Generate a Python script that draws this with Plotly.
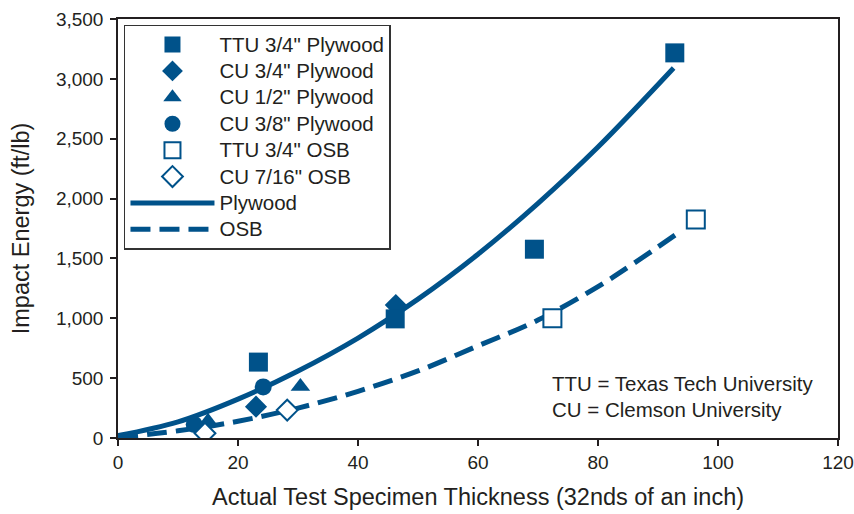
import plotly.graph_objects as go

BLUE = "#00528A"
INK = "#231F20"
FONT = "Liberation Sans, Arial, sans-serif"

# Measured specimens: thickness (32nds of an inch) vs impact energy (ft/lb)
ttu_ply34_x = [23.4, 46.2, 69.4, 92.8]
ttu_ply34_y = [634, 995, 1577, 3217]
cu_ply34_x = [23.0, 46.3]
cu_ply34_y = [262, 1110]
cu_ply12_x = [15.0, 30.4]
cu_ply12_y = [140, 430]
cu_ply38_x = [12.7, 24.2]
cu_ply38_y = [112, 427]
ttu_osb34_x = [72.4, 96.3]
ttu_osb34_y = [1000, 1826]
cu_osb716_x = [14.5, 28.2]
cu_osb716_y = [40, 233]

# Trend curves
ply_fit_x = [0, 10, 20, 30, 40, 50, 60, 70, 80, 92.6]
ply_fit_y = [20, 135, 325, 560, 835, 1160, 1535, 1960, 2430, 3090]
osb_fit_x = [0, 10, 20, 30, 40, 50, 60, 70, 80, 86, 93]
osb_fit_y = [5, 60, 140, 250, 390, 560, 770, 985, 1265, 1460, 1700]


def label(text):
    # legend rows are spaced by the legend font; the label itself is a touch larger
    return '<span style="font-size:20.5px">' + text + "</span>"


fig = go.Figure()

# curves first so the markers sit on top
fig.add_trace(go.Scatter(
    x=ply_fit_x, y=ply_fit_y, mode="lines", name=label("Plywood"), legendrank=7,
    line=dict(color=BLUE, width=5, shape="spline"),
))
fig.add_trace(go.Scatter(
    x=osb_fit_x, y=osb_fit_y, mode="lines", name=label("OSB"), legendrank=8,
    line=dict(color=BLUE, width=5, shape="spline", dash="20px,9px"),
))

filled = dict(color=BLUE, line=dict(width=0))
fig.add_trace(go.Scatter(
    x=cu_ply34_x, y=cu_ply34_y, mode="markers", name=label('CU 3/4" Plywood'), legendrank=2,
    marker=dict(symbol="diamond", size=17, **filled),
))
fig.add_trace(go.Scatter(
    x=cu_ply12_x, y=cu_ply12_y, mode="markers", name=label('CU 1/2" Plywood'), legendrank=3,
    marker=dict(symbol="triangle-up", size=17, **filled),
))
fig.add_trace(go.Scatter(
    x=cu_ply38_x, y=cu_ply38_y, mode="markers", name=label('CU 3/8" Plywood'), legendrank=4,
    marker=dict(symbol="circle", size=17, **filled),
))
fig.add_trace(go.Scatter(
    x=ttu_ply34_x, y=ttu_ply34_y, mode="markers", name=label('TTU 3/4" Plywood'), legendrank=1,
    marker=dict(symbol="square", size=19, **filled),
))
fig.add_trace(go.Scatter(
    x=ttu_osb34_x, y=ttu_osb34_y, mode="markers", name=label('TTU 3/4" OSB'), legendrank=5,
    marker=dict(symbol="square", size=18, color="white", line=dict(color=BLUE, width=2)),
))
fig.add_trace(go.Scatter(
    x=cu_osb716_x, y=cu_osb716_y, mode="markers", name=label('CU 7/16" OSB'), legendrank=6,
    marker=dict(symbol="diamond", size=16, color="white", line=dict(color=BLUE, width=2)),
))

axis_common = dict(
    showline=True, linecolor=INK, linewidth=1.5, mirror=True,
    ticks="outside", ticklen=6, tickwidth=1.5, tickcolor=INK,
    showgrid=False, zeroline=False, automargin=False,
    tickfont=dict(family=FONT, size=19, color=INK),
)

fig.update_xaxes(
    range=[0, 120], tick0=0, dtick=20,
    title=dict(text="Actual Test Specimen Thickness (32nds of an inch)",
               font=dict(family=FONT, size=23.5, color=INK), standoff=17),
    **axis_common,
)
fig.update_yaxes(
    range=[0, 3500], tick0=0, dtick=500, tickformat=",", ticklabelstandoff=3,
    title=dict(text="Impact Energy (ft/lb)",
               font=dict(family=FONT, size=23.5, color=INK), standoff=20),
    **axis_common,
)

fig.add_annotation(
    x=0.6, y=0.129, xref="paper", yref="paper", xanchor="left", yanchor="middle",
    text="TTU = Texas Tech University", showarrow=False,
    font=dict(family=FONT, size=20.5, color=INK),
)
fig.add_annotation(
    x=0.6, y=0.067, xref="paper", yref="paper", xanchor="left", yanchor="middle",
    text="CU = Clemson University", showarrow=False,
    font=dict(family=FONT, size=20.5, color=INK),
)

fig.update_layout(
    template="none",
    width=854, height=514,
    margin=dict(l=118, r=16, t=19, b=76),
    paper_bgcolor="white", plot_bgcolor="white",
    font=dict(family=FONT, color=INK),
    showlegend=True,
    legend=dict(
        x=0.0083, y=0.986, xanchor="left", yanchor="top",
        bgcolor="white", bordercolor="#333333", borderwidth=1.5,
        font=dict(family=FONT, size=18, color=INK),
        itemwidth=84, tracegroupgap=0,
    ),
)

fig.write_html("out.html")
